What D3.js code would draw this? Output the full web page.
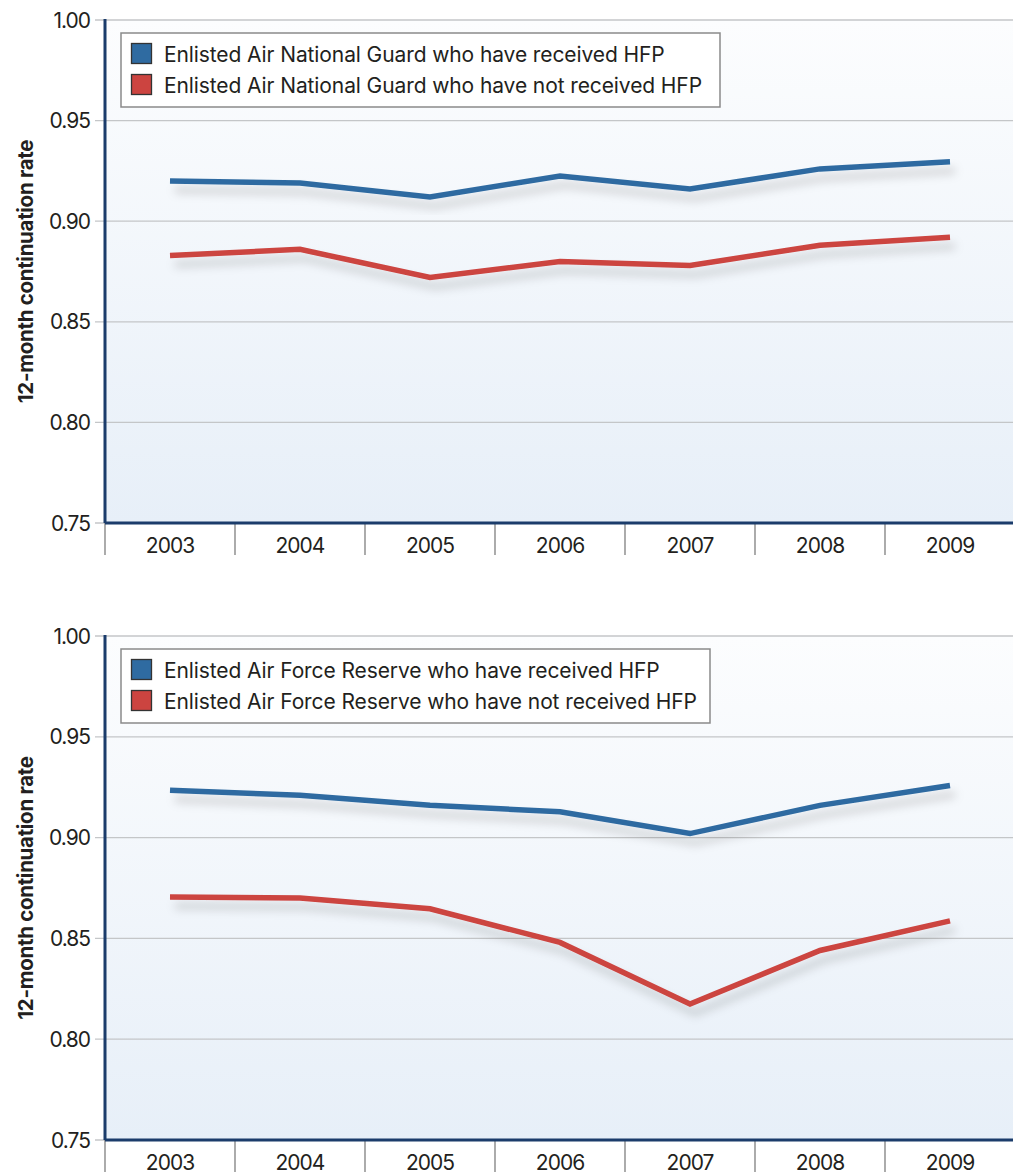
<!DOCTYPE html>
<html>
<head>
<meta charset="utf-8">
<script src="https://cdn.jsdelivr.net/npm/d3@7"></script>
<style>
  body { margin: 0; background: #fff; }
  text { font-family: Inter, Roboto, "Noto Sans", sans-serif; fill: #231f20; }
</style>
</head>
<body>
<svg id="chart" width="1013" height="1174"></svg>
<script>
// years on the x axis
var years = ["2003", "2004", "2005", "2006", "2007", "2008", "2009"];
var yTicks = [0.75, 0.80, 0.85, 0.90, 0.95, 1.00];

// Air National Guard
var angReceived    = [0.920, 0.919, 0.912, 0.9225, 0.916, 0.926, 0.9295];
var angNotReceived = [0.883, 0.886, 0.872, 0.880, 0.878, 0.888, 0.892];

// Air Force Reserve
var afrReceived    = [0.9235, 0.921, 0.916, 0.9128, 0.902, 0.916, 0.9258];
var afrNotReceived = [0.8705, 0.870, 0.8647, 0.848, 0.8175, 0.844, 0.8587];

var angLabels = ["Enlisted Air National Guard who have received HFP",
                 "Enlisted Air National Guard who have not received HFP"];
var afrLabels = ["Enlisted Air Force Reserve who have received HFP",
                 "Enlisted Air Force Reserve who have not received HFP"];

var colors = ["#2f6ba1", "#cc4440"];

var svg = d3.select("#chart");
var defs = svg.append("defs");

var grad = defs.append("linearGradient")
  .attr("id", "bg").attr("x1", 0).attr("y1", 0).attr("x2", 0).attr("y2", 1);
grad.append("stop").attr("offset", "0%").attr("stop-color", "#fcfdfe");
grad.append("stop").attr("offset", "100%").attr("stop-color", "#e7eff8");

var shadow = defs.append("filter").attr("id", "shadow")
  .attr("x", "-10%").attr("y", "-50%").attr("width", "120%").attr("height", "200%");
shadow.append("feDropShadow")
  .attr("dx", 5).attr("dy", 9).attr("stdDeviation", 5)
  .attr("flood-color", "#000").attr("flood-opacity", 0.18);

function drawPanel(top, bottom, series, labels, legendW) {
  var left = 105, right = 1013;

  var x = d3.scaleBand().domain(years).range([left, left + 130 * years.length]);
  var y = d3.scaleLinear().domain([0.75, 1.00]).range([bottom, top]);

  var g = svg.append("g");

  // background
  g.append("rect")
    .attr("x", left).attr("y", top)
    .attr("width", right - left).attr("height", bottom - top)
    .attr("fill", "url(#bg)");

  // gridlines (with little ticks to the left of the axis)
  g.selectAll(".grid").data(yTicks).enter().append("line")
    .attr("x1", left - 10).attr("x2", right)
    .attr("y1", d => y(d)).attr("y2", d => y(d))
    .attr("stroke", "#c4c6c8").attr("stroke-width", 1.3);

  g.selectAll(".ylab").data(yTicks).enter().append("text")
    .attr("x", 90).attr("y", d => y(d) + 7.5)
    .attr("text-anchor", "end")
    .attr("font-size", 21)
    .attr("letter-spacing", -1)
    .text(d => d3.format(".2f")(d));

  // category separators
  g.selectAll(".sep").data(years).enter().append("line")
    .attr("x1", d => x(d)).attr("x2", d => x(d))
    .attr("y1", bottom).attr("y2", bottom + 32)
    .attr("stroke", "#7f7f7f").attr("stroke-width", 1.3);

  g.selectAll(".xlab").data(years).enter().append("text")
    .attr("x", d => x(d) + x.bandwidth() / 2)
    .attr("y", bottom + 30)
    .attr("text-anchor", "middle")
    .attr("font-size", 21)
    .attr("letter-spacing", -1)
    .text(d => d);

  // y title
  g.append("text")
    .attr("transform", "translate(33," + ((top + bottom) / 2) + ") rotate(-90)")
    .attr("text-anchor", "middle")
    .attr("font-size", 20.5)
    .attr("font-weight", "bold")
    .attr("letter-spacing", -0.3)
    .text("12-month continuation rate");

  // lines
  var line = d3.line()
    .x((d, i) => x(years[i]) + x.bandwidth() / 2)
    .y(d => y(d));

  series.forEach(function (s, k) {
    g.append("path")
      .datum(s)
      .attr("d", line)
      .attr("fill", "none")
      .attr("stroke", colors[k])
      .attr("stroke-width", 5.5)
      .attr("stroke-linejoin", "miter")
      .attr("filter", "url(#shadow)");
  });

  // axes
  g.append("line")
    .attr("x1", left).attr("x2", left)
    .attr("y1", top - 1).attr("y2", bottom)
    .attr("stroke", "#1b3c6b").attr("stroke-width", 3);
  g.append("line")
    .attr("x1", left).attr("x2", right)
    .attr("y1", bottom).attr("y2", bottom)
    .attr("stroke", "#1b3c6b").attr("stroke-width", 3);

  // legend
  var lg = g.append("g").attr("transform", "translate(121," + (top + 13) + ")");
  lg.append("rect")
    .attr("width", legendW).attr("height", 74)
    .attr("fill", "#fff").attr("stroke", "#8a8a8a").attr("stroke-width", 1.5);
  labels.forEach(function (t, k) {
    lg.append("rect")
      .attr("x", 10.5).attr("y", 10.5 + k * 31)
      .attr("width", 20).attr("height", 20)
      .attr("fill", colors[k]).attr("stroke", "#333").attr("stroke-width", 1.3);
    lg.append("text")
      .attr("x", 43).attr("y", 29 + k * 31)
      .attr("font-size", 21)
      .attr("letter-spacing", -0.1)
      .text(t);
  });
}

drawPanel(20, 523, [angReceived, angNotReceived], angLabels, 599);
drawPanel(636, 1140, [afrReceived, afrNotReceived], afrLabels, 589);
</script>
</body>
</html>
